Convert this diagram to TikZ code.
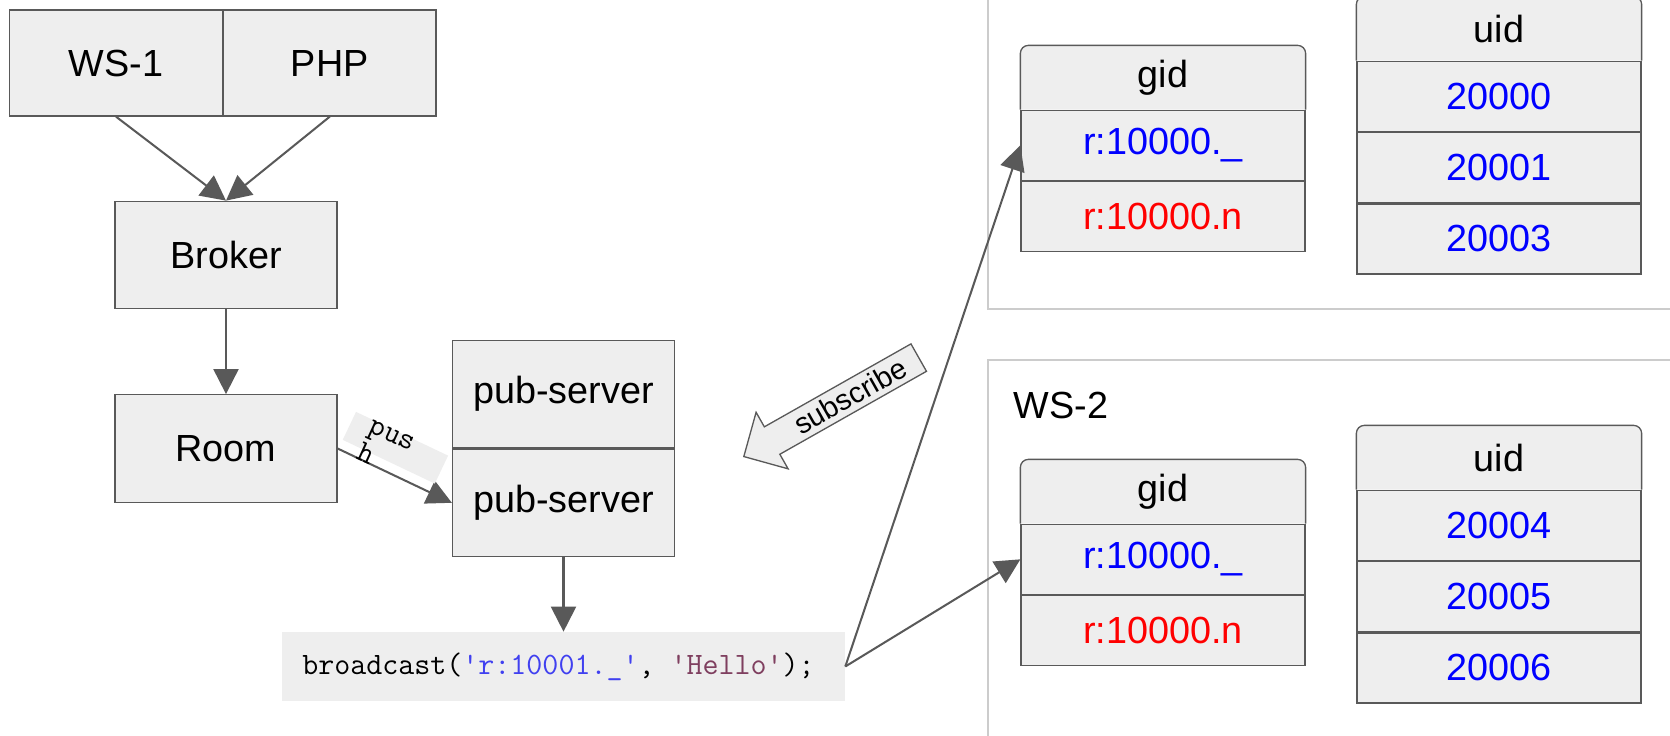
\documentclass[tikz,border=0pt]{standalone}
\usepackage{fontspec}
\setmainfont{Liberation Sans}
\usetikzlibrary{arrows.meta,positioning,shapes.arrows,backgrounds}

\definecolor{linegray}{HTML}{595959}
\definecolor{boxfill}{HTML}{EEEEEE}
\definecolor{grpline}{HTML}{CCCCCC}
\definecolor{keyblue}{HTML}{0000FF}
\definecolor{keyred}{HTML}{FF0000}
\definecolor{codeblue}{HTML}{4040F0}
\definecolor{codestr}{HTML}{7F3F5F}

\tikzset{
  box/.style={draw=linegray,fill=boxfill,line width=0.75pt,minimum width=4.44cm,minimum height=2.15cm,font=\fontsize{21.5}{25}\selectfont},
  cell/.style={box,minimum width=5.68cm,minimum height=1.4cm},
  headcell/.style={cell,draw=none,fill=none,minimum height=1.26cm},
  headframe/.style={draw=linegray,fill=boxfill,line width=0.75pt,rounded corners=0.16cm},
  conn/.style={draw=linegray,line width=1.15pt,-{Triangle[length=0.5cm,width=0.5cm]}},
  group/.style={draw=grpline,line width=0.8pt,minimum width=14.24cm},
  pushbg/.style={fill=boxfill,minimum width=2.04cm,minimum height=0.62cm,inner sep=0pt},
  pushtxt/.style={font=\ttfamily\fontsize{17.5}{17}\selectfont,align=left,inner sep=0pt},
  subarrow/.style={single arrow,draw=linegray,fill=boxfill,line width=0.75pt,minimum height=4.02cm,minimum width=1.3cm,
    single arrow head extend=0.315cm,inner sep=2pt,shape border rotate=180,font=\fontsize{16.5}{19}\selectfont},
}

\begin{document}
\begin{tikzpicture}[x=0.02cm,y=-0.02cm]
  \useasboundingbox (0,0) rectangle (1670,735);
  \clip (0,0) rectangle (1670,735);

  % the two server groups on the right
  \node[group,minimum height=6.58cm] (grp1) at (1344,144.5) {};
  \node[group,minimum height=8cm] (grp2) at (1344,560) {};
  \node[font=\fontsize{21.5}{25}\selectfont] (ws2) at (1061,405) {WS-2};

  % left column
  \node[box,minimum width=4.25cm,minimum height=2.12cm] (ws1) at (116,63) {WS-1};
  \node[box,minimum width=4.25cm,minimum height=2.12cm,right=0pt of ws1] (php) {PHP};
  \node[box] (broker) at (226,255) {Broker};
  \node[box] (room) at (226,448.5) {Room};
  \node[box] (pubtop) at (563.5,394) {pub-server};
  \node[box,below=0pt of pubtop] (pubbot) {pub-server};
  \node[fill=boxfill,minimum width=11.26cm,minimum height=1.38cm,font=\ttfamily\fontsize{17.7}{20}\selectfont] (bcast) at (563.5,666.5)
    {broadcast(\textcolor{codeblue}{\textquotesingle r:10001.\_\textquotesingle}, \textcolor{codestr}{\textquotesingle Hello\textquotesingle});\hspace*{0.2cm}};

  \node[subarrow,rotate=29.5,anchor=tip] (subscribe) at (743,457) {\hspace*{0.55cm}subscribe};

  % gid / uid tables
  \node[headcell] (gid1) at (1163,77.5) {gid};
  \node[cell,below=0pt of gid1,text=keyblue] (gid1a) {r:10000.\_};
  \node[cell,below=0pt of gid1a,text=keyred] (gid1b) {r:10000.n};
  \node[headcell] (uid1) at (1499,28.5) {uid};
  \node[cell,below=0pt of uid1,text=keyblue] (uid1a) {20000};
  \node[cell,below=0pt of uid1a,text=keyblue] (uid1b) {20001};
  \node[cell,below=0pt of uid1b,text=keyblue] (uid1c) {20003};

  \node[headcell] (gid2) at (1163,491.5) {gid};
  \node[cell,below=0pt of gid2,text=keyblue] (gid2a) {r:10000.\_};
  \node[cell,below=0pt of gid2a,text=keyred] (gid2b) {r:10000.n};
  \node[headcell] (uid2) at (1499,457.5) {uid};
  \node[cell,below=0pt of uid2,text=keyblue] (uid2a) {20004};
  \node[cell,below=0pt of uid2a,text=keyblue] (uid2b) {20005};
  \node[cell,below=0pt of uid2b,text=keyblue] (uid2c) {20006};

  \begin{scope}[on background layer]
    \foreach \t in {gid1,uid1,gid2,uid2}
      \path[headframe] (\t.south west) |- (\t.north east) -- (\t.south east);
  \end{scope}

  % connectors
  \draw[conn] (ws1.south) -- (broker.north);
  \draw[conn] (php.south) -- (broker.north);
  \draw[conn] (broker) -- (room);
  \draw[conn] (room.east) -- node[pushbg,pos=0.41,sloped,above=0.18cm] (pushbox) {} (pubbot.west);
  \node[pushtxt,rotate=-24.6,xshift=-0.16cm,yshift=-0.1cm] (push) at (pushbox.center) {pus\\h};
  \draw[conn] (pubbot) -- (bcast);
  \draw[conn] (bcast.east) -- (gid1a.west);
  \draw[conn] (bcast.east) -- (gid2a.west);
\end{tikzpicture}
\end{document}
